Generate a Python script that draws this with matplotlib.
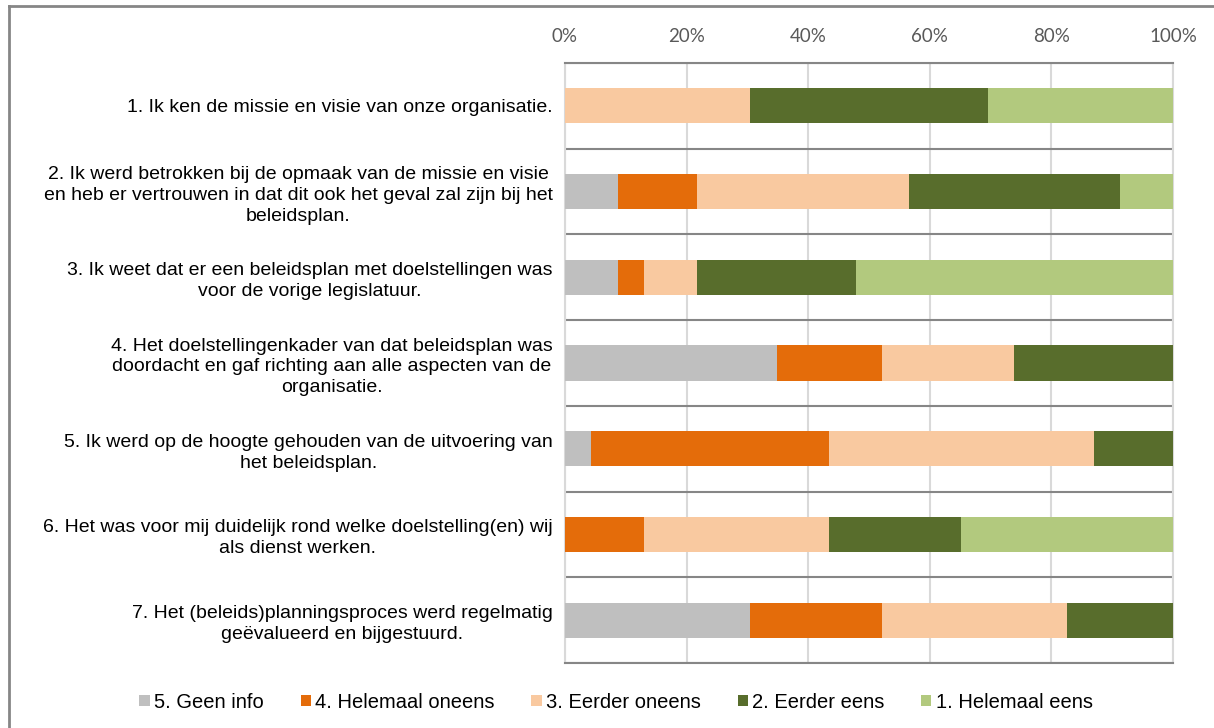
import matplotlib
matplotlib.use("Agg")
from matplotlib import pyplot as plt
from matplotlib.lines import Line2D
import numpy as np

plt.rcParams['font.family'] = ['Liberation Sans', 'DejaVu Sans']

vragen = [
    '1. Ik ken de missie en visie van onze organisatie.',
    '2. Ik werd betrokken bij de opmaak van de missie en visie\nen heb er vertrouwen in dat dit ook het geval zal zijn bij het\nbeleidsplan.',
    '3. Ik weet dat er een beleidsplan met doelstellingen was\nvoor de vorige legislatuur.',
    '4. Het doelstellingenkader van dat beleidsplan was\ndoordacht en gaf richting aan alle aspecten van de\norganisatie.',
    '5. Ik werd op de hoogte gehouden van de uitvoering van\nhet beleidsplan.',
    '6. Het was voor mij duidelijk rond welke doelstelling(en) wij\nals dienst werken.',
    '7. Het (beleids)planningsproces werd regelmatig\ngeëvalueerd en bijgestuurd.',
]

reeksen = ['5. Geen info', '4. Helemaal oneens', '3. Eerder oneens',
           '2. Eerder eens', '1. Helemaal eens']

# aandeel in %
geen_info = [0.0, 8.7, 8.7, 34.8, 4.3, 0.0, 30.4]
helemaal_oneens = [0.0, 13.0, 4.3, 17.4, 39.1, 13.0, 21.7]
eerder_oneens = [30.4, 34.8, 8.7, 21.7, 43.5, 30.4, 30.4]
eerder_eens = [39.1, 34.8, 26.1, 26.1, 13.0, 21.7, 17.4]
helemaal_eens = [30.4, 8.7, 52.2, 0.0, 0.0, 34.8, 0.0]

kleuren = ['#BFBFBF', '#E46C0A', '#F9C9A0', '#586D2C', '#B2C97E']

data = np.array([geen_info, helemaal_oneens, eerder_oneens, eerder_eens, helemaal_eens])
data = data / data.sum(axis=0) * 100

fig = plt.figure(figsize=(12.14, 7.28), dpi=100)
ax = fig.add_axes([565 / 1214, 1 - 663 / 728, (1173 - 565) / 1214, 600 / 728])

y = np.arange(len(vragen))
links = np.zeros(len(vragen))
for reeks, waarden, kleur in zip(reeksen, data, kleuren):
    ax.barh(y, waarden, left=links, height=0.41, color=kleur, label=reeks, zorder=3)
    links += waarden

ax.set_xlim(0, 100)
ax.set_ylim(len(vragen) - 0.5, -0.5)
ax.set_xticks(np.arange(0, 101, 20))
ax.set_xticklabels([f'{v}%' for v in range(0, 101, 20)])
ax.xaxis.tick_top()
ax.tick_params(axis='x', length=0, pad=13, labelsize=13.5, labelcolor='#595959')
for lbl in ax.get_xticklabels():
    lbl.set_family(['Lato', 'DejaVu Sans'])

ax.set_yticks(y)
ax.set_yticklabels(vragen)
ax.tick_params(axis='y', length=0, pad=9, labelsize=14, labelcolor='#000000')
for lbl in ax.get_yticklabels():
    lbl.set_multialignment('center')
    lbl.set_linespacing(1.3)

ax.set_yticks(np.arange(-0.5, len(vragen), 1), minor=True)
ax.tick_params(axis='y', which='minor', length=0)
ax.grid(axis='x', color='#D9D9D9', linewidth=1.5, zorder=0)
ax.grid(axis='y', which='minor', color='#868686', linewidth=1.5, zorder=1)

for kant in ['left', 'right']:
    ax.spines[kant].set_color('#D9D9D9')
    ax.spines[kant].set_linewidth(1.5)
for kant in ['top', 'bottom']:
    ax.spines[kant].set_color('#868686')
    ax.spines[kant].set_linewidth(1.5)

fig.legend(loc='center', bbox_to_anchor=(0.5 + 9 / 1214, 1 - 702 / 728), ncol=5, frameon=False,
           fontsize=14.5, handlelength=0.5, handleheight=0.5, handletextpad=0.2,
           columnspacing=1.85)

# rand rond de grafiek
fig.add_artist(Line2D([9 / 1214, 9 / 1214], [0, 1 - 6 / 728], color='#868686', linewidth=2,
                      transform=fig.transFigure))
fig.add_artist(Line2D([9 / 1214, 1], [1 - 6 / 728, 1 - 6 / 728], color='#868686', linewidth=2,
                      transform=fig.transFigure))

fig.savefig('out.png', dpi=100)
